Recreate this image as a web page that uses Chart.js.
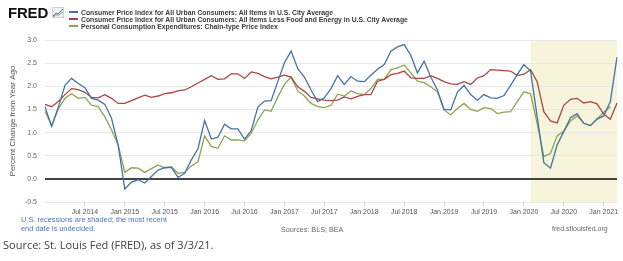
<!DOCTYPE html>
<html>
<head>
<meta charset="utf-8">
<script src="https://cdn.jsdelivr.net/npm/chart.js@4/dist/chart.umd.min.js"></script>
<style>
  body { margin: 0; background: #fff; }
  #wrap { position: relative; width: 623px; height: 261px; overflow: hidden; font-family: "Liberation Sans", Arial, sans-serif; }
  #chart { position: absolute; left: 0; top: 0; }
  .txt { position: absolute; white-space: nowrap; }
  #logo { left: 8px; top: 4px; font-size: 15px; font-weight: 900; color: #111; letter-spacing: -0.2px; }
  #icon { position: absolute; left: 52px; top: 7px; }
  .leg { position: absolute; left: 69px; font-size: 6.8px; font-weight: bold; color: #3a3a3a; line-height: 7px; }
  .leg i { display: inline-block; width: 9px; height: 2px; vertical-align: middle; margin-right: 3px; position: relative; top: -1px; }
  #note { left: 21px; top: 216px; font-size: 7.4px; color: #4a74b4; line-height: 8.5px; }
  #src { left: 281px; top: 225px; font-size: 7.2px; color: #666; }
  #url { left: 552px; top: 225px; font-size: 7px; color: #666; }
  #foot { left: 3px; top: 237px; font-family: "Open Sans", sans-serif; font-size: 11px; color: #404040; }
</style>
</head>
<body>
<div id="wrap">
  <canvas id="chart" width="623" height="261"></canvas>
  <div class="txt" id="logo">FRED</div>
  <svg id="icon" width="12" height="11" viewBox="0 0 12 11">
    <rect x="0.5" y="0.5" width="11" height="10" fill="#eef2f7" stroke="#c9d3e0"/>
    <polyline points="1,9 4,6 6,7 11,2" fill="none" stroke="#4572a7" stroke-width="1"/>
    <polyline points="1,10 4,8 7,8 11,5" fill="none" stroke="#89a54e" stroke-width="1"/>
  </svg>
  <div class="leg" style="top:9px"><i style="background:#4572a7"></i>Consumer Price Index for All Urban Consumers: All Items in U.S. City Average</div>
  <div class="leg" style="top:16px"><i style="background:#aa4643"></i>Consumer Price Index for All Urban Consumers: All Items Less Food and Energy in U.S. City Average</div>
  <div class="leg" style="top:23px"><i style="background:#89a54e"></i>Personal Consumption Expenditures: Chain-type Price Index</div>
  <div class="txt" id="note">U.S. recessions are shaded; the most recent<br>end date is undecided.</div>
  <div class="txt" id="src">Sources: BLS; BEA</div>
  <div class="txt" id="url">fred.stlouisfed.org</div>
  <div class="txt" id="foot">Source: St. Louis Fed (FRED), as of 3/3/21.</div>
</div>
<script>
// monthly, Jan 2014 .. Mar 2021
const monthNames = ['Jan', 'Feb', 'Mar', 'Apr', 'May', 'Jun', 'Jul', 'Aug', 'Sep', 'Oct', 'Nov', 'Dec']
const years = [2014, 2015, 2016, 2017, 2018, 2019, 2020, 2021]
const lastMonthOf2021 = 3

// percent change from year ago
const cpiAll = [
  1.56, 1.13, 1.55, 2.02, 2.17, 2.06, 1.97, 1.74, 1.70, 1.61, 1.31, 0.73,
  -0.22, -0.07, -0.02, -0.09, 0.05, 0.19, 0.24, 0.25, 0.03, 0.12, 0.41, 0.65,
  1.26, 0.86, 0.90, 1.18, 1.08, 1.08, 0.86, 1.04, 1.55, 1.68, 1.69, 2.10,
  2.51, 2.76, 2.38, 2.20, 1.92, 1.67, 1.75, 1.95, 2.23, 2.04, 2.21, 2.11,
  2.10, 2.24, 2.37, 2.47, 2.76, 2.85, 2.90, 2.67, 2.29, 2.54, 2.20, 1.92,
  1.50, 1.49, 1.87, 2.02, 1.82, 1.70, 1.82, 1.75, 1.74, 1.80, 2.02, 2.25,
  2.47, 2.33, 1.34, 0.35, 0.23, 0.73, 1.02, 1.32, 1.41, 1.20, 1.15, 1.29,
  1.36, 1.67, 2.63
]
const cpiCore = [
  1.61, 1.56, 1.67, 1.82, 1.95, 1.93, 1.87, 1.76, 1.75, 1.82, 1.74, 1.63,
  1.63, 1.69, 1.75, 1.81, 1.76, 1.79, 1.84, 1.86, 1.90, 1.92, 1.99, 2.07,
  2.15, 2.23, 2.15, 2.16, 2.27, 2.27, 2.17, 2.31, 2.28, 2.21, 2.16, 2.20,
  2.24, 2.20, 1.99, 1.89, 1.76, 1.73, 1.70, 1.69, 1.70, 1.77, 1.73, 1.78,
  1.82, 1.82, 2.11, 2.15, 2.25, 2.28, 2.33, 2.18, 2.17, 2.17, 2.23, 2.17,
  2.10, 2.05, 2.04, 2.10, 2.04, 2.18, 2.23, 2.36, 2.35, 2.34, 2.33, 2.23,
  2.26, 2.36, 2.10, 1.45, 1.25, 1.21, 1.59, 1.72, 1.74, 1.64, 1.67, 1.62,
  1.40, 1.29, 1.64
]
const pce = [
  1.46, 1.15, 1.51, 1.74, 1.84, 1.74, 1.76, 1.59, 1.56, 1.34, 1.06, 0.73,
  0.14, 0.24, 0.23, 0.14, 0.22, 0.30, 0.24, 0.26, 0.12, 0.14, 0.28, 0.37,
  0.93, 0.70, 0.66, 0.93, 0.84, 0.84, 0.82, 0.98, 1.27, 1.49, 1.46, 1.77,
  2.04, 2.20, 1.90, 1.79, 1.63, 1.56, 1.54, 1.59, 1.83, 1.79, 1.90, 1.84,
  1.82, 1.95, 2.15, 2.15, 2.36, 2.40, 2.46, 2.29, 2.11, 2.08, 1.99, 1.88,
  1.49, 1.38, 1.52, 1.63, 1.50, 1.46, 1.54, 1.52, 1.41, 1.44, 1.45, 1.67,
  1.88, 1.84, 1.20, 0.48, 0.55, 0.93, 1.03, 1.25, 1.36, 1.20, 1.15, 1.29,
  1.44, 1.56, null
]
const recessionStart = 'Feb 2020'
const shownTicks = ['Jul 2014', 'Jan 2015', 'Jul 2015', 'Jan 2016', 'Jul 2016', 'Jan 2017', 'Jul 2017',
  'Jan 2018', 'Jul 2018', 'Jan 2019', 'Jul 2019', 'Jan 2020', 'Jul 2020', 'Jan 2021']

const labels = []
years.forEach(y => {
  const n = y === 2021 ? lastMonthOf2021 : 12
  for (let m = 0; m < n; m++) labels.push(monthNames[m] + ' ' + y)
})

// recession shading, drawn under the grid
const recessionShade = {
  id: 'recessionShade',
  beforeDraw(chart) {
    const {ctx, chartArea, scales} = chart
    const x0 = scales.x.getPixelForValue(labels.indexOf(recessionStart))
    ctx.save()
    ctx.fillStyle = '#f6f4da'
    ctx.fillRect(x0, chartArea.top, chartArea.right - x0, chartArea.bottom - chartArea.top)
    ctx.restore()
  }
}

const lineStyle = {pointRadius: 0, borderWidth: 1.3, tension: 0, fill: false}

new Chart(document.getElementById('chart'), {
  type: 'line',
  data: {
    labels: labels,
    datasets: [
      {label: 'CPI all items', data: cpiAll, borderColor: '#4572a7', ...lineStyle},
      {label: 'CPI less food and energy', data: cpiCore, borderColor: '#aa4643', ...lineStyle},
      {label: 'PCE price index', data: pce, borderColor: '#89a54e', ...lineStyle}
    ]
  },
  options: {
    responsive: false,
    animation: false,
    layout: {padding: {top: 40, right: 6, bottom: 45, left: 0}},
    plugins: {legend: {display: false}, tooltip: {enabled: false}},
    scales: {
      y: {
        min: -0.5,
        max: 3.0,
        ticks: {
          stepSize: 0.5,
          padding: 8,
          color: '#666',
          font: {family: 'Liberation Sans', size: 7},
          callback: v => v.toFixed(1)
        },
        grid: {
          drawTicks: false,
          color: c => c.tick && c.tick.value === 0 ? '#444' : '#e8e8e8',
          lineWidth: c => c.tick && c.tick.value === 0 ? 2 : 1
        },
        border: {display: false},
        title: {
          display: true,
          text: 'Percent Change from Year Ago',
          color: '#555',
          font: {family: 'Liberation Sans', size: 8},
          padding: {top: 8, bottom: 0}
        },
        afterFit: s => { s.width = 45 }
      },
      x: {
        ticks: {
          autoSkip: false,
          maxRotation: 0,
          minRotation: 0,
          padding: 2,
          color: '#555',
          font: {family: 'Liberation Sans', size: 7},
          callback: function (v, i) { return shownTicks.includes(labels[i]) ? labels[i] : '' }
        },
        grid: {
          drawOnChartArea: false,
          tickLength: 4,
          color: c => shownTicks.includes(labels[c.index]) ? '#ccd6eb' : 'rgba(0,0,0,0)'
        },
        border: {display: false},
        afterFit: s => { s.height = 14 }
      }
    }
  },
  plugins: [recessionShade]
})
</script>
</body>
</html>
